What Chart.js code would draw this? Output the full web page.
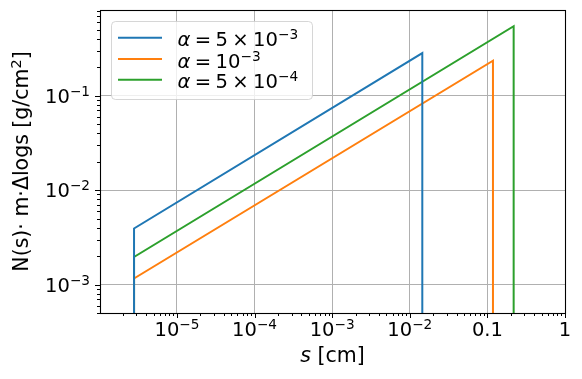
<!DOCTYPE html>
<html>
<head>
<meta charset="utf-8">
<script src="https://cdn.jsdelivr.net/npm/chart.js@4.4.1/dist/chart.umd.min.js"></script>
<style>
  html, body { margin: 0; padding: 0; background: #fff; }
</style>
</head>
<body>
<canvas id="chart" width="582" height="379"></canvas>
<script>
// Series data: s [cm] and N(s)*m*dlogs [g/cm^2], one array pair per alpha
const sBlue   = [2.8e-6, 2.8e-6, 0.0145, 0.0145];
const nBlue   = [1e-6, 3.93e-3, 0.283, 1e-6];
const sOrange = [2.8e-6, 2.8e-6, 0.118, 0.118];
const nOrange = [1e-6, 1.16e-3, 0.235, 1e-6];
const sGreen  = [2.8e-6, 2.8e-6, 0.218, 0.218];
const nGreen  = [1e-6, 1.96e-3, 0.545, 1e-6];

const seriesNames = ['alpha = 5e-3', 'alpha = 1e-3', 'alpha = 5e-4'];
const seriesColors = ['#1f77b4', '#ff7f0e', '#2ca02c'];

// legend labels as (text, italic, superscript, padded) pieces
const legendLabels = [
    [['α', 1, 0], ['=', 0, 0, 1], ['5', 0, 0], ['×', 0, 0, 1], ['10', 0, 0], ['−3', 0, 1]],
    [['α', 1, 0], ['=', 0, 0, 1], ['10', 0, 0], ['−3', 0, 1]],
    [['α', 1, 0], ['=', 0, 0, 1], ['5', 0, 0], ['×', 0, 0, 1], ['10', 0, 0], ['−4', 0, 1]]
];

const xMin = 1.02e-6, xMax = 1;
const yMin = 5.0e-4, yMax = 0.81;
const xTickLabels = {1e-5: [['10'], ['−5', 0, 1]], 1e-4: [['10'], ['−4', 0, 1]], 1e-3: [['10'], ['−3', 0, 1]],
                     1e-2: [['10'], ['−2', 0, 1]], 0.1: [['0.1']], 1: [['1']]};
const yTickLabels = {1e-3: [['10'], ['−3', 0, 1]], 1e-2: [['10'], ['−2', 0, 1]], 1e-1: [['10'], ['−1', 0, 1]]};

const FONT = '"DejaVu Sans", sans-serif';

function toPoints(xs, ys) {
    return xs.map((x, i) => ({ x: x, y: ys[i] }));
}

function logTicks(min, max) {
    const out = [];
    for (let e = Math.floor(Math.log10(min)); e <= Math.ceil(Math.log10(max)); e++) {
        for (let m = 1; m <= 9; m++) {
            const v = m * Math.pow(10, e);
            if (v >= min * 0.9999 && v <= max * 1.0001) out.push(v);
        }
    }
    return out;
}

function isMajor(v) {
    const l = Math.log10(v);
    return Math.abs(l - Math.round(l)) < 1e-6;
}

// pieces: [text, italic, sup, padded]
function partFont(p, fs) {
    return (p[1] ? 'italic ' : '') + (p[2] ? fs * 0.7 : fs) + 'px ' + FONT;
}
function drawRich(ctx, parts, x, y, fs, align) {
    const gap = fs * 0.22;
    let w = 0;
    const ws = parts.map(p => {
        ctx.font = partFont(p, fs);
        const pw = ctx.measureText(p[0]).width + (p[3] ? 2 * gap : 0);
        w += pw;
        return pw;
    });
    let cx = x - (align === 'center' ? w / 2 : align === 'right' ? w : 0);
    ctx.textAlign = 'left';
    ctx.textBaseline = 'alphabetic';
    parts.forEach((p, i) => {
        ctx.font = partFont(p, fs);
        ctx.fillText(p[0], cx + (p[3] ? gap : 0), y - (p[2] ? fs * 0.36 : 0));
        cx += ws[i];
    });
}

const decorations = {
    id: 'decorations',
    afterDraw(chart) {
        const ctx = chart.ctx;
        const area = chart.chartArea;
        const xs = chart.scales.x, ys = chart.scales.y;
        ctx.save();
        ctx.fillStyle = '#000';
        ctx.strokeStyle = '#000';
        ctx.lineWidth = 1.1;

        // spines
        ctx.strokeRect(Math.round(area.left) + 0.5, Math.round(area.top) + 0.5,
            Math.round(area.right - area.left), Math.round(area.bottom - area.top));

        // tick marks (outward)
        ctx.lineWidth = 1;
        ctx.beginPath();
        xs.ticks.forEach(t => {
            const px = Math.round(xs.getPixelForValue(t.value)) + 0.5;
            const len = isMajor(t.value) ? 5 : 3;
            ctx.moveTo(px, area.bottom);
            ctx.lineTo(px, area.bottom + len);
        });
        ys.ticks.forEach(t => {
            const py = Math.round(ys.getPixelForValue(t.value)) + 0.5;
            const len = isMajor(t.value) ? 5 : 3;
            ctx.moveTo(area.left, py);
            ctx.lineTo(area.left - len, py);
        });
        ctx.stroke();

        // tick labels
        Object.keys(xTickLabels).forEach(k => {
            drawRich(ctx, xTickLabels[k], xs.getPixelForValue(Number(k)), 336, 19.5, 'center');
        });
        Object.keys(yTickLabels).forEach(k => {
            drawRich(ctx, yTickLabels[k], 90, ys.getPixelForValue(Number(k)) + 7, 19.5, 'right');
        });

        // axis titles
        drawRich(ctx, [['s', 1], [' [cm]']], (area.left + area.right) / 2, 362, 20.5, 'center');
        ctx.save();
        ctx.translate(28, (area.top + area.bottom) / 2);
        ctx.rotate(-Math.PI / 2);
        drawRich(ctx, [['N(s)· m·Δlogs [g/cm'], ['2', 0, 1], [']']], 0, 0, 20.5, 'center');
        ctx.restore();

        // legend
        ctx.beginPath();
        ctx.roundRect(111.5, 21.5, 201, 78, 4);
        ctx.fillStyle = 'rgba(255,255,255,0.8)';
        ctx.fill();
        ctx.strokeStyle = 'rgba(204,204,204,0.8)';
        ctx.lineWidth = 1;
        ctx.stroke();
        const rowY = [37.7, 59, 79.7];
        legendLabels.forEach((parts, i) => {
            ctx.strokeStyle = seriesColors[i];
            ctx.lineWidth = 2;
            ctx.beginPath();
            ctx.moveTo(118, rowY[i]);
            ctx.lineTo(162, rowY[i]);
            ctx.stroke();
            ctx.fillStyle = '#000';
            drawRich(ctx, parts, 177.5, rowY[i] + 8.6, 19.6, 'left');
        });
        ctx.restore();
    }
};

function gridColor(ctx) {
    return ctx.tick && isMajor(ctx.tick.value) ? '#b0b0b0' : 'rgba(0,0,0,0)';
}

new Chart(document.getElementById('chart').getContext('2d'), {
    type: 'scatter',
    data: {
        datasets: [
            { label: seriesNames[0], data: toPoints(sBlue, nBlue) },
            { label: seriesNames[1], data: toPoints(sOrange, nOrange) },
            { label: seriesNames[2], data: toPoints(sGreen, nGreen) }
        ].map((d, i) => Object.assign(d, {
            showLine: true,
            borderColor: seriesColors[i],
            backgroundColor: seriesColors[i],
            borderWidth: 2,
            pointRadius: 0,
            tension: 0
        }))
    },
    options: {
        responsive: false,
        devicePixelRatio: 1,
        animation: false,
        layout: { padding: { top: 10, right: 17, left: 0, bottom: 0 } },
        plugins: { legend: { display: false }, tooltip: { enabled: false } },
        scales: {
            x: {
                type: 'logarithmic',
                min: xMin,
                max: xMax,
                afterBuildTicks: s => { s.ticks = logTicks(xMin, xMax).map(v => ({ value: v })); },
                afterFit: s => { s.height = 66; },
                ticks: { display: false },
                border: { display: false },
                grid: { color: gridColor, lineWidth: 1, drawTicks: false }
            },
            y: {
                type: 'logarithmic',
                min: yMin,
                max: yMax,
                afterBuildTicks: s => { s.ticks = logTicks(yMin, yMax).map(v => ({ value: v })); },
                afterFit: s => { s.width = 100; },
                ticks: { display: false },
                border: { display: false },
                grid: { color: gridColor, lineWidth: 1, drawTicks: false }
            }
        }
    },
    plugins: [decorations]
});
</script>
</body>
</html>
